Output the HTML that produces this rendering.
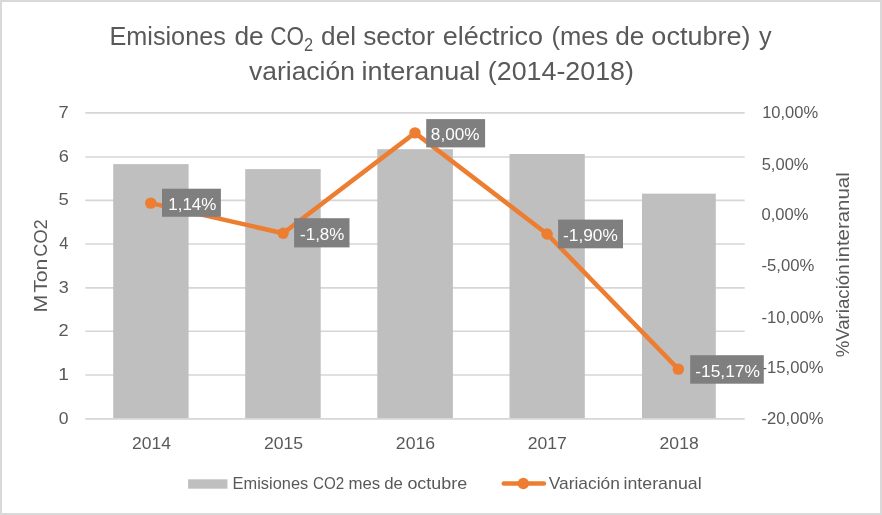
<!DOCTYPE html>
<html lang="es"><head><meta charset="utf-8"><title>Emisiones de CO2 del sector eléctrico</title>
<style>
html,body{margin:0;padding:0;background:#fff}
body{width:882px;height:515px;overflow:hidden}
svg{display:block}
svg text{font-family:"Liberation Sans",sans-serif;white-space:pre}
</style></head><body>
<svg width="882" height="515" viewBox="0 0 882 515">
<rect x="0" y="0" width="882" height="515" fill="#ffffff"/>
<rect x="1" y="1" width="880" height="513" fill="none" stroke="#d9d9d9" stroke-width="2"/>
<g stroke="#d6d6d6" stroke-width="1.7">
<line x1="85.3" y1="375.00" x2="744.7" y2="375.00"/>
<line x1="85.3" y1="331.25" x2="744.7" y2="331.25"/>
<line x1="85.3" y1="287.80" x2="744.7" y2="287.80"/>
<line x1="85.3" y1="244.00" x2="744.7" y2="244.00"/>
<line x1="85.3" y1="200.35" x2="744.7" y2="200.35"/>
<line x1="85.3" y1="157.00" x2="744.7" y2="157.00"/>
<line x1="85.3" y1="112.95" x2="744.7" y2="112.95"/>
</g>
<g fill="#bfbfbf">
<rect x="113.20" y="164.10" width="75.40" height="253.90"/>
<rect x="245.20" y="169.10" width="75.50" height="248.90"/>
<rect x="377.30" y="149.20" width="75.60" height="268.80"/>
<rect x="509.50" y="154.00" width="75.30" height="264.00"/>
<rect x="642.00" y="193.65" width="73.80" height="224.35"/>
</g>
<line x1="85.3" y1="418.80" x2="744.7" y2="418.80" stroke="#d6d6d6" stroke-width="1.7"/>
<text id="t1_0" x="109.51" y="44.90" font-size="25.2" fill="#595959" textLength="116.28" lengthAdjust="spacingAndGlyphs">Emisiones</text>
<text id="t1_1" x="234.40" y="44.90" font-size="25.2" fill="#595959" textLength="29.26" lengthAdjust="spacingAndGlyphs">de</text>
<text id="t1_2" x="270.24" y="44.90" font-size="25.2" fill="#595959" textLength="33.80" lengthAdjust="spacingAndGlyphs">CO</text>
<text id="t1_sub" x="304.12" y="50.90" font-size="17.8" fill="#595959" textLength="9.12" lengthAdjust="spacingAndGlyphs">2</text>
<text id="t1_3" x="321.13" y="44.90" font-size="25.2" fill="#595959" textLength="34.89" lengthAdjust="spacingAndGlyphs">del</text>
<text id="t1_4" x="363.15" y="44.90" font-size="25.2" fill="#595959" textLength="71.53" lengthAdjust="spacingAndGlyphs">sector</text>
<text id="t1_5" x="442.65" y="44.90" font-size="25.2" fill="#595959" textLength="100.45" lengthAdjust="spacingAndGlyphs">eléctrico</text>
<text id="t1_6" x="551.54" y="44.90" font-size="25.2" fill="#595959" textLength="56.78" lengthAdjust="spacingAndGlyphs">(mes</text>
<text id="t1_7" x="615.20" y="44.90" font-size="25.2" fill="#595959" textLength="29.13" lengthAdjust="spacingAndGlyphs">de</text>
<text id="t1_8" x="651.37" y="44.90" font-size="25.2" fill="#595959" textLength="99.14" lengthAdjust="spacingAndGlyphs">octubre)</text>
<text id="t1_9" x="758.95" y="44.90" font-size="25.2" fill="#595959" textLength="12.57" lengthAdjust="spacingAndGlyphs">y</text>
<text id="t2_0" x="249.06" y="79.50" font-size="25.2" fill="#595959" textLength="105.84" lengthAdjust="spacingAndGlyphs">variación</text>
<text id="t2_1" x="361.64" y="79.50" font-size="25.2" fill="#595959" textLength="118.64" lengthAdjust="spacingAndGlyphs">interanual</text>
<text id="t2_2" x="487.83" y="79.50" font-size="25.2" fill="#595959" textLength="146.11" lengthAdjust="spacingAndGlyphs">(2014-2018)</text>
<text id="lg1_0" x="232.64" y="488.50" font-size="16.2" fill="#595959" textLength="75.58" lengthAdjust="spacingAndGlyphs">Emisiones</text>
<text id="lg1_1" x="312.99" y="488.50" font-size="16.2" fill="#595959" textLength="31.19" lengthAdjust="spacingAndGlyphs">CO2</text>
<text id="lg1_2" x="348.46" y="488.50" font-size="16.2" fill="#595959" textLength="31.75" lengthAdjust="spacingAndGlyphs">mes</text>
<text id="lg1_3" x="384.28" y="488.50" font-size="16.2" fill="#595959" textLength="18.71" lengthAdjust="spacingAndGlyphs">de</text>
<text id="lg1_4" x="407.41" y="488.50" font-size="16.2" fill="#595959" textLength="59.68" lengthAdjust="spacingAndGlyphs">octubre</text>
<text id="lg2_0" x="548.79" y="488.50" font-size="16.2" fill="#595959" textLength="71.12" lengthAdjust="spacingAndGlyphs">Variación</text>
<text id="lg2_1" x="623.52" y="488.50" font-size="16.2" fill="#595959" textLength="78.15" lengthAdjust="spacingAndGlyphs">interanual</text>
<text id="ly0" x="58.69" y="423.90" font-size="16.4" fill="#595959" textLength="9.77" lengthAdjust="spacingAndGlyphs">0</text>
<text id="ly1" x="58.18" y="380.10" font-size="16.4" fill="#595959" textLength="10.69" lengthAdjust="spacingAndGlyphs">1</text>
<text id="ly2" x="58.53" y="336.35" font-size="16.4" fill="#595959" textLength="10.11" lengthAdjust="spacingAndGlyphs">2</text>
<text id="ly3" x="58.71" y="292.90" font-size="16.4" fill="#595959" textLength="10.01" lengthAdjust="spacingAndGlyphs">3</text>
<text id="ly4" x="59.21" y="249.10" font-size="16.4" fill="#595959" textLength="9.13" lengthAdjust="spacingAndGlyphs">4</text>
<text id="ly5" x="58.51" y="205.45" font-size="16.4" fill="#595959" textLength="10.29" lengthAdjust="spacingAndGlyphs">5</text>
<text id="ly6" x="58.65" y="162.10" font-size="16.4" fill="#595959" textLength="10.13" lengthAdjust="spacingAndGlyphs">6</text>
<text id="ly7" x="58.52" y="118.05" font-size="16.4" fill="#595959" textLength="10.13" lengthAdjust="spacingAndGlyphs">7</text>
<text id="ry0" x="762.16" y="117.80" font-size="16.4" fill="#595959" textLength="56.02" lengthAdjust="spacingAndGlyphs">10,00%</text>
<text id="ry1" x="761.69" y="170.00" font-size="16.4" fill="#595959" textLength="46.84" lengthAdjust="spacingAndGlyphs">5,00%</text>
<text id="ry2" x="761.53" y="220.00" font-size="16.4" fill="#595959" textLength="46.96" lengthAdjust="spacingAndGlyphs">0,00%</text>
<text id="ry3" x="761.41" y="270.90" font-size="16.4" fill="#595959" textLength="52.88" lengthAdjust="spacingAndGlyphs">-5,00%</text>
<text id="ry4" x="761.54" y="322.60" font-size="16.4" fill="#595959" textLength="61.91" lengthAdjust="spacingAndGlyphs">-10,00%</text>
<text id="ry5" x="761.54" y="372.80" font-size="16.4" fill="#595959" textLength="61.91" lengthAdjust="spacingAndGlyphs">-15,00%</text>
<text id="ry6" x="761.54" y="423.70" font-size="16.4" fill="#595959" textLength="61.91" lengthAdjust="spacingAndGlyphs">-20,00%</text>
<text id="xl0" x="132.03" y="448.90" font-size="16.4" fill="#595959" textLength="38.94" lengthAdjust="spacingAndGlyphs">2014</text>
<text id="xl1" x="263.90" y="448.90" font-size="16.4" fill="#595959" textLength="39.19" lengthAdjust="spacingAndGlyphs">2015</text>
<text id="xl2" x="395.83" y="448.90" font-size="16.4" fill="#595959" textLength="39.24" lengthAdjust="spacingAndGlyphs">2016</text>
<text id="xl3" x="527.72" y="448.90" font-size="16.4" fill="#595959" textLength="39.18" lengthAdjust="spacingAndGlyphs">2017</text>
<text id="xl4" x="659.59" y="448.90" font-size="16.4" fill="#595959" textLength="39.11" lengthAdjust="spacingAndGlyphs">2018</text>
<text id="atl0" transform="translate(46.60 312.55) rotate(-90)" font-size="17.6" fill="#595959" textLength="17.83" lengthAdjust="spacingAndGlyphs">M</text>
<text id="atl1" transform="translate(46.60 292.75) rotate(-90)" font-size="17.6" fill="#595959" textLength="34.15" lengthAdjust="spacingAndGlyphs">Ton</text>
<text id="atl2" transform="translate(46.60 256.76) rotate(-90)" font-size="17.6" fill="#595959" textLength="37.50" lengthAdjust="spacingAndGlyphs">CO2</text>
<text id="atr0" transform="translate(849.10 357.36) rotate(-90)" font-size="17.6" fill="#595959" textLength="92.89" lengthAdjust="spacingAndGlyphs">%Variación</text>
<text id="atr1" transform="translate(849.10 262.00) rotate(-90)" font-size="17.6" fill="#595959" textLength="89.68" lengthAdjust="spacingAndGlyphs">interanual</text>
<polyline points="150.75,203.15 283.10,233.20 415.00,132.85 547.10,234.05 678.30,369.15" fill="none" stroke="#ed7d31" stroke-width="4.5" stroke-linecap="round" stroke-linejoin="round"/>
<circle cx="150.75" cy="203.15" r="5.7" fill="#ed7d31"/>
<circle cx="283.10" cy="233.20" r="5.7" fill="#ed7d31"/>
<circle cx="415.00" cy="132.85" r="5.7" fill="#ed7d31"/>
<circle cx="547.10" cy="234.05" r="5.7" fill="#ed7d31"/>
<circle cx="678.30" cy="369.15" r="5.7" fill="#ed7d31"/>
<rect x="162.0" y="188.7" width="58.90" height="28.10" fill="#7f7f7f"/>
<rect x="294.1" y="218.2" width="55.40" height="29.20" fill="#7f7f7f"/>
<rect x="426.2" y="119.1" width="58.90" height="28.30" fill="#7f7f7f"/>
<rect x="558.1" y="219.6" width="64.90" height="28.70" fill="#7f7f7f"/>
<rect x="690.2" y="355.2" width="73.60" height="28.50" fill="#7f7f7f"/>
<rect x="188.1" y="479.3" width="39.3" height="9.4" fill="#bfbfbf"/>
<line x1="503.8" y1="483.5" x2="543.9" y2="483.5" stroke="#ed7d31" stroke-width="4.5" stroke-linecap="round"/>
<circle cx="523.3" cy="483.5" r="5.7" fill="#ed7d31"/>
<text id="dl0" x="168.22" y="210.00" font-size="16.4" fill="#ffffff" textLength="48.17" lengthAdjust="spacingAndGlyphs">1,14%</text>
<text id="dl1" x="300.07" y="240.30" font-size="16.4" fill="#ffffff" textLength="44.29" lengthAdjust="spacingAndGlyphs">-1,8%</text>
<text id="dl2" x="430.88" y="140.30" font-size="16.4" fill="#ffffff" textLength="48.73" lengthAdjust="spacingAndGlyphs">8,00%</text>
<text id="dl3" x="563.07" y="241.20" font-size="16.4" fill="#ffffff" textLength="54.73" lengthAdjust="spacingAndGlyphs">-1,90%</text>
<text id="dl4" x="695.29" y="376.50" font-size="16.4" fill="#ffffff" textLength="64.68" lengthAdjust="spacingAndGlyphs">-15,17%</text>
</svg></body></html>
